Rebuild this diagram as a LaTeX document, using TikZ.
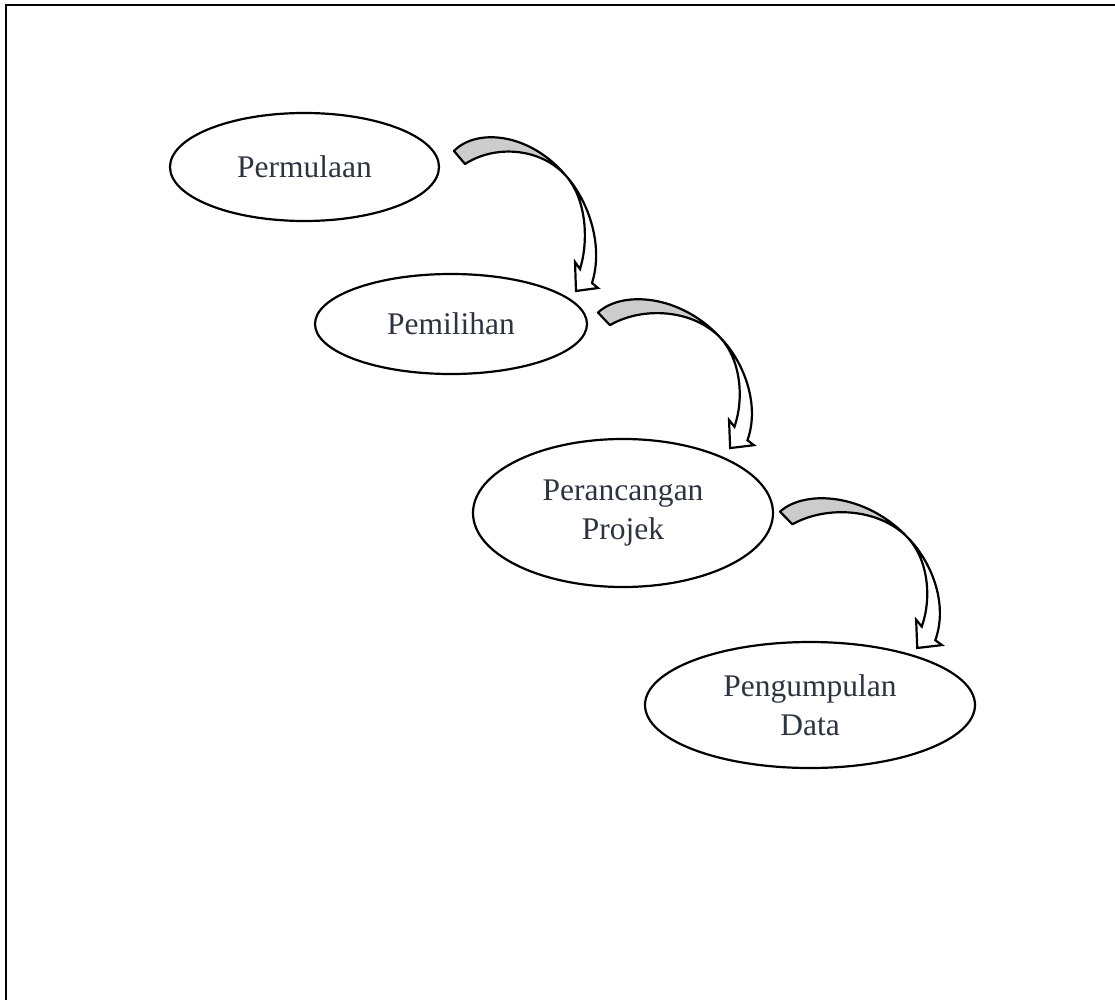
\documentclass[tikz,border=0pt]{standalone}
\usepackage{fontspec}
\setmainfont{Liberation Serif}
\usetikzlibrary{shapes.geometric}
\definecolor{textc}{RGB}{45,52,64}
\definecolor{arrowgray}{RGB}{204,204,204}
\tikzset{
  stage/.style={ellipse, draw=black, line width=2.2pt, inner sep=0pt, align=center,
    text=textc, font=\fontsize{31.5}{39}\selectfont},
  curvearrow/.pic={
    \filldraw[fill=arrowgray, draw=black, line width=2.2pt, line join=round]
      (0,14) .. controls (22,-9) and (76,-5) .. (113,40)
      .. controls (88,11) and (42,7) .. (11,27) -- cycle;
    \filldraw[fill=white, draw=black, line width=2.2pt, line join=miter]
      (113,40) .. controls (134,64) and (150,108) .. (138,146)
      -- (144,151) -- (122,154) -- (121,125) -- (126,132)
      .. controls (135,103) and (132,63) .. (113,40) -- cycle;
  }
}
\begin{document}
\begin{tikzpicture}[x=1pt,y=-1pt]
\useasboundingbox (0,0) rectangle (1115,1000);
\draw[line width=2.4pt] (6,1000) -- (6,5) -- (1115,5);

\node[stage, minimum width=269pt, minimum height=108pt] (n1) at (304.5,167) {Permulaan};
\node[stage, minimum width=272pt, minimum height=100pt] (n2) at (451,324) {Pemilihan};
\node[stage, minimum width=300pt, minimum height=148pt] (n3) at (623,513) {Perancangan\\Projek};
\node[stage, minimum width=330pt, minimum height=126pt] (n4) at (810,705) {Pengumpulan\\Data};

\pic at (454,137) {curvearrow};
\pic[xscale=1.083, yscale=0.968] at (598,299) {curvearrow};
\pic[xscale=1.125, yscale=0.974] at (780,498) {curvearrow};
\end{tikzpicture}
\end{document}
